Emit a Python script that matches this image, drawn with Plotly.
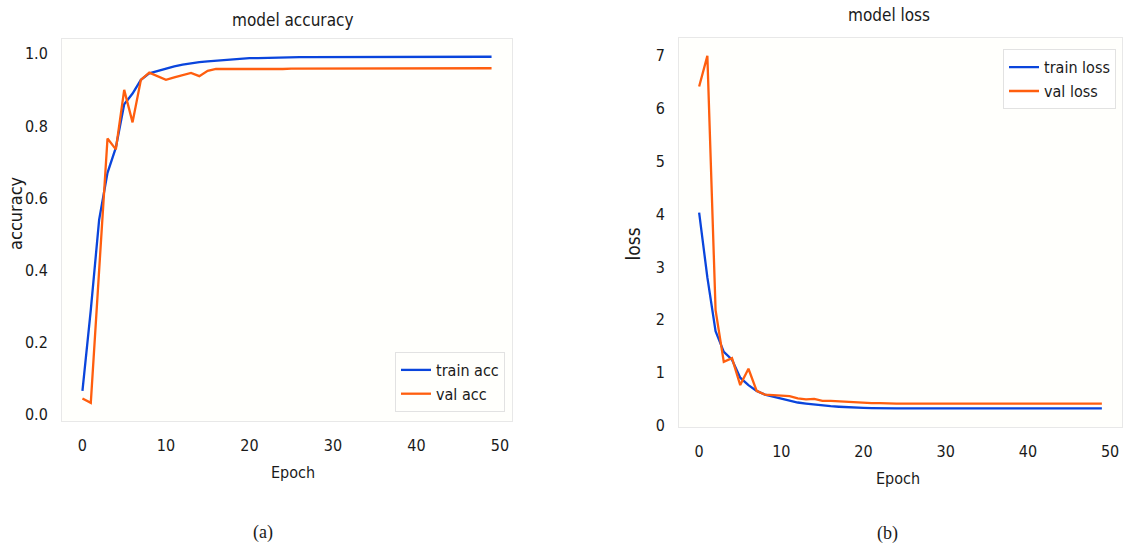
import plotly.graph_objects as go

# Training history over 50 epochs
epochs = list(range(50))

train_acc = [0.065, 0.29, 0.54, 0.67, 0.74, 0.86, 0.89, 0.928, 0.946, 0.953,
             0.959, 0.965, 0.970, 0.974, 0.977, 0.979, 0.981, 0.983, 0.985, 0.987,
             0.988, 0.988, 0.989, 0.989, 0.990, 0.990, 0.991, 0.991, 0.991, 0.991,
             0.992, 0.992, 0.992, 0.992, 0.992, 0.992, 0.992, 0.992, 0.992, 0.992,
             0.992, 0.992, 0.992, 0.992, 0.992, 0.992, 0.992, 0.992, 0.992, 0.992]

val_acc = [0.044, 0.032, 0.40, 0.765, 0.735, 0.90, 0.81, 0.928, 0.948, 0.937,
           0.928, 0.935, 0.941, 0.947, 0.938, 0.953, 0.958, 0.958, 0.958, 0.957,
           0.958, 0.956, 0.958, 0.957, 0.958, 0.959, 0.959, 0.959, 0.958, 0.959,
           0.959, 0.959, 0.959, 0.959, 0.959, 0.959, 0.960, 0.960, 0.959, 0.959,
           0.960, 0.960, 0.960, 0.959, 0.960, 0.960, 0.960, 0.960, 0.960, 0.960]

train_loss = [4.03, 2.80, 1.78, 1.39, 1.24, 0.90, 0.76, 0.65, 0.58, 0.54,
              0.50, 0.46, 0.43, 0.41, 0.39, 0.37, 0.36, 0.35, 0.34, 0.335,
              0.33, 0.325, 0.32, 0.32, 0.32, 0.32, 0.32, 0.32, 0.32, 0.32,
              0.32, 0.32, 0.32, 0.32, 0.32, 0.32, 0.32, 0.32, 0.32, 0.32,
              0.32, 0.32, 0.32, 0.32, 0.32, 0.32, 0.32, 0.32, 0.32, 0.32]

val_loss = [6.42, 7.00, 2.18, 1.20, 1.27, 0.76, 1.07, 0.65, 0.58, 0.57,
            0.57, 0.55, 0.51, 0.49, 0.50, 0.46, 0.46, 0.45, 0.44, 0.43,
            0.42, 0.42, 0.42, 0.41, 0.41, 0.41, 0.41, 0.41, 0.41, 0.41,
            0.41, 0.41, 0.41, 0.41, 0.41, 0.41, 0.41, 0.41, 0.41, 0.41,
            0.41, 0.41, 0.41, 0.41, 0.41, 0.41, 0.41, 0.41, 0.41, 0.41]

acc_ticks = [0.0, 0.2, 0.4, 0.6, 0.8, 1.0]
loss_ticks = [0, 1, 2, 3, 4, 5, 6, 7]
epoch_ticks = [0, 10, 20, 30, 40, 50]

BLUE = "#0a45dc"
ORANGE = "#ff5e0e"
FONT = "DejaVu Sans Condensed, DejaVu Sans, sans-serif"
W, H = 1130, 557

fig = go.Figure()

fig.add_trace(go.Scatter(x=epochs, y=train_acc, mode="lines", name="train acc",
                         line=dict(color=BLUE, width=2.3), xaxis="x", yaxis="y",
                         legend="legend"))
fig.add_trace(go.Scatter(x=epochs, y=val_acc, mode="lines", name="val acc",
                         line=dict(color=ORANGE, width=2.3), xaxis="x", yaxis="y",
                         legend="legend"))
fig.add_trace(go.Scatter(x=epochs, y=train_loss, mode="lines", name="train loss",
                         line=dict(color=BLUE, width=2.3), xaxis="x2", yaxis="y2",
                         legend="legend2"))
fig.add_trace(go.Scatter(x=epochs, y=val_loss, mode="lines", name="val loss",
                         line=dict(color=ORANGE, width=2.3), xaxis="x2", yaxis="y2",
                         legend="legend2"))

axis_common = dict(showgrid=False, zeroline=False, showline=True, mirror=True,
                   linecolor="#e8e8e8", linewidth=1, ticks="",
                   tickfont=dict(family=FONT, size=16, color="#1a1a1a"))

fig.update_layout(
    width=W, height=H, autosize=False,
    margin=dict(l=0, r=0, t=0, b=0),
    paper_bgcolor="#ffffff", plot_bgcolor="#fffffc",
    font=dict(family=FONT, color="#1a1a1a"),
    xaxis=dict(domain=[62 / W, 512 / W], range=[-2.45, 51.45], anchor="y",
               tickvals=epoch_ticks, ticklabelstandoff=10, **axis_common),
    yaxis=dict(domain=[(H - 427) / H, (H - 40) / H], range=[-0.018, 1.04], anchor="x",
               tickvals=acc_ticks, tickformat=".1f", ticklabelstandoff=10, **axis_common),
    xaxis2=dict(domain=[679 / W, 1122 / W], range=[-2.45, 51.45], anchor="y2",
                tickvals=epoch_ticks, ticklabelstandoff=10, **axis_common),
    yaxis2=dict(domain=[(H - 433) / H, (H - 39) / H], range=[-0.03, 7.33], anchor="x2",
                tickvals=loss_ticks, ticklabelstandoff=10, **axis_common),
    legend=dict(x=505 / W, y=(H - 418) / H, xanchor="right", yanchor="bottom",
                bgcolor="#fffffc", bordercolor="#e2e2e2", borderwidth=1,
                font=dict(family=FONT, size=16, color="#1a1a1a")),
    legend2=dict(x=1116 / W, y=(H - 50) / H, xanchor="right", yanchor="top",
                 bgcolor="#ffffff", bordercolor="#e2e2e2", borderwidth=1,
                 font=dict(family=FONT, size=16, color="#1a1a1a")),
    showlegend=True,
)

def text(x, y, s, size, angle=0, family=FONT):
    fig.add_annotation(x=x / W, y=1 - y / H, xref="paper", yref="paper",
                       text=s, showarrow=False, textangle=angle,
                       xanchor="center", yanchor="middle",
                       font=dict(family=family, size=size, color="#1a1a1a"))

text(292, 20, "model accuracy", 17)
text(889, 15, "model loss", 17)
text(16, 217, "accuracy", 18, angle=-90)
text(633, 248, "loss", 19, angle=-90)
text(293, 479, "Epoch", 16)
text(898, 485, "Epoch", 16)
text(263, 540, "(a)", 18, family="Liberation Serif, DejaVu Serif, serif")
text(887, 541, "(b)", 18, family="Liberation Serif, DejaVu Serif, serif")

fig.write_html("out.html")
